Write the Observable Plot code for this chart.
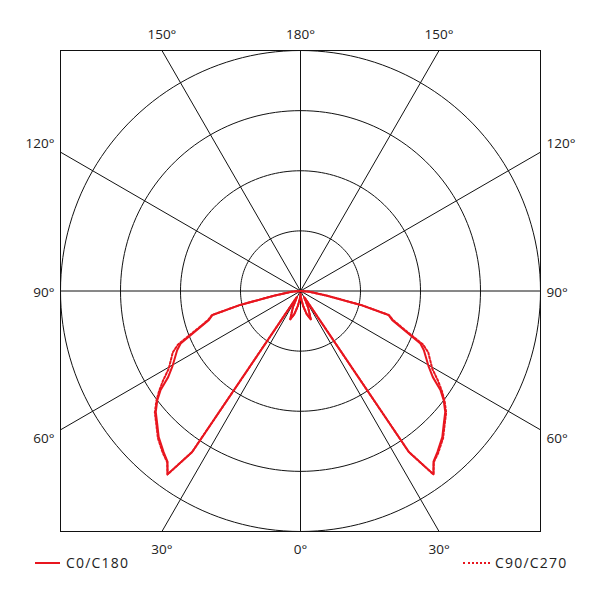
<!DOCTYPE html>
<html>
<head>
<meta charset="utf-8">
<script src="https://cdn.jsdelivr.net/npm/d3@7"></script>
<script src="https://cdn.jsdelivr.net/npm/@observablehq/plot@0.6"></script>
<style>
  body { margin: 0; background: #fff; font-family: "Open Sans", sans-serif; }
  #legend { position: relative; width: 600px; height: 40px; font-size: 14px; color: #222; }
  #legend .ln { position: absolute; height: 0; }
  #legend .tx { position: absolute; top: -3px; line-height: 16px; letter-spacing: 1.2px; }
</style>
</head>
<body>
<div id="chart"></div>
<div id="legend">
  <div class="ln" style="left:35px;top:4px;width:25px;border-top:2px solid #e8161f"></div>
  <div class="tx" style="left:66px">C0/C180</div>
  <div class="ln" style="left:463px;top:4px;width:27px;border-top:2px dotted #e8161f"></div>
  <div class="tx" style="left:495px">C90/C270</div>
</div>
<script>
// gamma angles (degrees from nadir) and intensities (arbitrary units, ring = 100)
const angles = [0, 5, 10, 15, 20, 25, 30, 32, 34, 36, 38, 40.4, 44.2, 47.3, 50.2, 52.7, 54.7, 57, 59.5, 64.4, 66.4, 72.5, 74.8, 77, 80, 85, 90];
const c0c180 = [5, 13, 25, 40, 50, 30, 12, 15, 323, 377, 360, 352, 339, 325, 314, 300, 286, 263, 248, 228, 218, 160, 152, 103, 45, 15, 0];
const c90c270 = [5, 13, 25, 40, 50, 30, 12, 15, 323, 377, 361, 354, 341, 327, 316, 302, 289, 273, 255, 236, 223, 162, 153, 104, 45, 15, 0];
const ringValues = [100, 200, 300, 400];
const spokeAngles = [0, 30, 60, 90, 120, 150, 180, 210, 240, 270, 300, 330];
const spokeLabels = ["0°", "30°", "60°", "90°", "120°", "150°", "180°", "150°", "120°", "90°", "60°", "30°"];
const seriesNames = ["C0/C180", "C90/C270"];

const R = 400;
const rad = a => a * Math.PI / 180;
const px = (r, a) => r * Math.sin(rad(a));
const py = (r, a) => -r * Math.cos(rad(a));

function curve(values, name) {
  const pts = [];
  for (let i = angles.length - 1; i >= 0; i--) pts.push({x: px(values[i], -angles[i]), y: py(values[i], -angles[i]), s: name});
  for (let i = 1; i < angles.length; i++) pts.push({x: px(values[i], angles[i]), y: py(values[i], angles[i]), s: name});
  return pts;
}

const rings = ringValues.flatMap(r => d3.range(0, 361, 2).map(a => ({x: px(r, a), y: py(r, a), r})));
const spokes = spokeAngles.map((a, i) => {
  const s = Math.sin(rad(-a)), c = -Math.cos(rad(-a));
  const m = Math.max(Math.abs(s), Math.abs(c));
  const L = R / m;
  const x2 = s * L, y2 = c * L;
  let lx, ly, anchor;
  if (Math.abs(s) > Math.abs(c) + 1e-9) {
    // side label: just outside the frame, nudged away from the horizontal
    lx = Math.sign(x2) * 410;
    ly = y2 + (Math.abs(y2) > 1 ? Math.sign(y2) * 14 : -3);
    anchor = x2 < 0 ? "end" : "start";
  } else {
    lx = x2;
    ly = y2 > 0 ? 427 : -430;
    anchor = "middle";
  }
  return {x2, y2, lx, ly, anchor, label: spokeLabels[i]};
});

const red = "#e8161f";
const chart = Plot.plot({
  width: 600,
  height: 558,
  marginTop: 50,
  marginBottom: 27,
  marginLeft: 60,
  marginRight: 60,
  style: {fontFamily: "Open Sans, sans-serif", background: "#fff"},
  x: {domain: [-R, R], axis: null},
  y: {domain: [-R, R], axis: null},
  marks: [
    Plot.line(rings, {x: "x", y: "y", z: "r", stroke: "#111", strokeWidth: 1}),
    Plot.link(spokes, {x1: 0, y1: 0, x2: "x2", y2: "y2", stroke: "#111", strokeWidth: 1}),
    Plot.frame({stroke: "#111", strokeWidth: 1}),
    Plot.line(curve(c0c180, seriesNames[0]), {x: "x", y: "y", stroke: red, strokeWidth: 2}),
    Plot.line(curve(c90c270, seriesNames[1]), {x: "x", y: "y", stroke: red, strokeWidth: 2, strokeDasharray: "2,2"}),
    Plot.text(spokes.filter(d => d.anchor === "end"), {x: "lx", y: "ly", text: "label", textAnchor: "end", fontSize: 13.5, fill: "#222"}),
    Plot.text(spokes.filter(d => d.anchor === "start"), {x: "lx", y: "ly", text: "label", textAnchor: "start", fontSize: 13.5, fill: "#222"}),
    Plot.text(spokes.filter(d => d.anchor === "middle"), {x: "lx", y: "ly", text: "label", textAnchor: "middle", fontSize: 13.5, fill: "#222"})
  ]
});
document.getElementById("chart").append(chart);
</script>
</body>
</html>
